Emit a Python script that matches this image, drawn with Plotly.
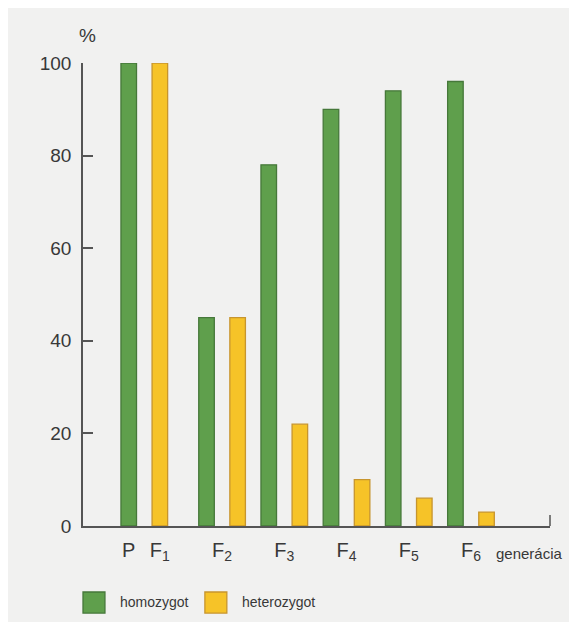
import plotly.graph_objects as go

# ---- data ----
generations = ["P", "F1", "F2", "F3", "F4", "F5", "F6"]
tick_labels = ["P", "F<sub>1</sub>", "F<sub>2</sub>", "F<sub>3</sub>",
               "F<sub>4</sub>", "F<sub>5</sub>", "F<sub>6</sub>"]
homozygot = [100, None, 45, 78, 90, 94, 96]
heterozygot = [None, 100, 45, 22, 10, 6, 3]
y_ticks = [0, 20, 40, 60, 80, 100]

# ---- layout of generation slots (P and F1 are single bars side by side) ----
centers = []
for i, g in enumerate(generations):
    centers.append(i if i < 2 else 2 * i - 1)

hom_x, het_x = [], []
for c, h, e in zip(centers, homozygot, heterozygot):
    both = h is not None and e is not None
    hom_x.append(c - 0.5 if both else c)
    het_x.append(c + 0.5 if both else c)

GREEN, GREEN_EDGE = "#5f9f4c", "#46783a"
YELLOW, YELLOW_EDGE = "#f6c328", "#c7952e"
AXIS = "#555555"
TEXT = "#383838"
FONT = "Liberation Sans, Arial, sans-serif"
BG = "#f1f1f0"

fig = go.Figure()
fig.add_trace(go.Bar(x=hom_x, y=homozygot, name="homozygot", width=0.5,
                     marker=dict(color=GREEN, line=dict(color=GREEN_EDGE, width=1.3)),
                     showlegend=False))
fig.add_trace(go.Bar(x=het_x, y=heterozygot, name="heterozygot", width=0.5,
                     marker=dict(color=YELLOW, line=dict(color=YELLOW_EDGE, width=1.3)),
                     showlegend=False))

# the page body adds an 8px margin, so the figure is 8px smaller on each axis
fig.update_layout(
    width=569, height=614,
    margin=dict(l=75, r=27, t=55, b=96),
    paper_bgcolor=BG, plot_bgcolor=BG,
    font=dict(family=FONT, color=TEXT),
    barmode="overlay",
    xaxis=dict(range=[-1.47, 13.54], showgrid=False, zeroline=False,
               showline=True, linecolor=AXIS, linewidth=1.5,
               tickvals=centers, ticktext=tick_labels, ticks="",
               tickfont=dict(size=20, color=TEXT), ticklabelstandoff=5),
    yaxis=dict(range=[0, 100], showgrid=False, zeroline=False,
               showline=True, linecolor=AXIS, linewidth=1.5,
               tickvals=y_ticks, ticks="inside", ticklen=10, tickwidth=1.5,
               tickcolor=AXIS, tickfont=dict(size=19, color=TEXT),
               ticklabelstandoff=6),
)

# end tick on the right of the x axis
fig.add_shape(type="line", xref="paper", yref="y", x0=1, x1=1, y0=0, y1=2.4,
              line=dict(color=AXIS, width=1.5))

# axis titles
fig.add_annotation(text="%", xref="paper", yref="paper", x=0.009, y=1.06,
                   showarrow=False, font=dict(size=19, color=TEXT),
                   xanchor="center", yanchor="middle")
fig.add_annotation(text="generácia", xref="paper", yref="paper", x=1.032, y=-0.06,
                   showarrow=False, font=dict(size=15, color=TEXT),
                   xanchor="right", yanchor="middle")

# legend drawn as boxes + labels
legend_items = [("homozygot", GREEN, GREEN_EDGE, 0.0, 0.075),
                ("heterozygot", YELLOW, YELLOW_EDGE, 0.261, 0.336)]
for label, fill, edge, x0, tx in legend_items:
    fig.add_shape(type="rect", xref="paper", yref="paper",
                  x0=x0, x1=x0 + 0.047, y0=-0.188, y1=-0.1425,
                  fillcolor=fill, line=dict(color=edge, width=1.3))
    fig.add_annotation(text=label, xref="paper", yref="paper", x=tx, y=-0.165,
                       showarrow=False, font=dict(size=14, color=TEXT),
                       xanchor="left", yanchor="middle")

fig.write_html("out.html")
